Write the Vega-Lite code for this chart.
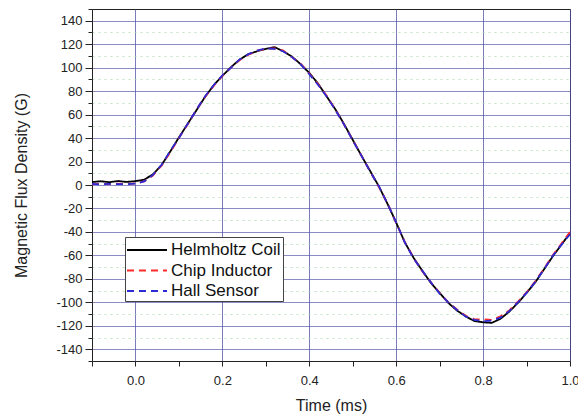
{
  "$schema": "https://vega.github.io/schema/vega-lite/v6.json",
  "width": 478,
  "height": 352,
  "autosize": {"type": "none"},
  "padding": {"left": 92, "top": 9, "right": 8, "bottom": 57},
  "background": "white",
  "config": {
    "view": {"stroke": "#222", "strokeWidth": 1},
    "font": "Liberation Sans",
    "axis": {"labelFont": "Liberation Sans", "titleFont": "Liberation Sans", "labelColor": "#222", "titleColor": "#222", "tickColor": "#222", "domain": false}
  },
  "data": {
    "values": [
      {"t": -0.10, "Helmholtz Coil": 2.5, "Chip Inductor": 0.5, "Hall Sensor": 1},
      {"t": -0.08, "Helmholtz Coil": 3.2, "Chip Inductor": 1, "Hall Sensor": 0.5},
      {"t": -0.06, "Helmholtz Coil": 2.4, "Chip Inductor": 0.8, "Hall Sensor": 1},
      {"t": -0.04, "Helmholtz Coil": 3.4, "Chip Inductor": 1.2, "Hall Sensor": 0.8},
      {"t": -0.02, "Helmholtz Coil": 2.6, "Chip Inductor": 0.7, "Hall Sensor": 0.6},
      {"t": 0.00, "Helmholtz Coil": 3.3, "Chip Inductor": 1.5, "Hall Sensor": 1.2},
      {"t": 0.02, "Helmholtz Coil": 4.5, "Chip Inductor": 3, "Hall Sensor": 3},
      {"t": 0.04, "Helmholtz Coil": 9, "Chip Inductor": 8, "Hall Sensor": 8.5},
      {"t": 0.06, "Helmholtz Coil": 17, "Chip Inductor": 16.5, "Hall Sensor": 17},
      {"t": 0.08, "Helmholtz Coil": 28.5, "Chip Inductor": 28, "Hall Sensor": 29},
      {"t": 0.10, "Helmholtz Coil": 40.5, "Chip Inductor": 40, "Hall Sensor": 40},
      {"t": 0.12, "Helmholtz Coil": 52, "Chip Inductor": 51.5, "Hall Sensor": 52},
      {"t": 0.14, "Helmholtz Coil": 63.5, "Chip Inductor": 64, "Hall Sensor": 64},
      {"t": 0.16, "Helmholtz Coil": 75, "Chip Inductor": 75, "Hall Sensor": 75.5},
      {"t": 0.18, "Helmholtz Coil": 85, "Chip Inductor": 84.5, "Hall Sensor": 85},
      {"t": 0.20, "Helmholtz Coil": 93, "Chip Inductor": 93, "Hall Sensor": 93.5},
      {"t": 0.22, "Helmholtz Coil": 100.5, "Chip Inductor": 100, "Hall Sensor": 100},
      {"t": 0.24, "Helmholtz Coil": 107, "Chip Inductor": 106.5, "Hall Sensor": 107},
      {"t": 0.26, "Helmholtz Coil": 111.5, "Chip Inductor": 111, "Hall Sensor": 111.5},
      {"t": 0.28, "Helmholtz Coil": 114, "Chip Inductor": 114.5, "Hall Sensor": 114.5},
      {"t": 0.30, "Helmholtz Coil": 116, "Chip Inductor": 116, "Hall Sensor": 116.5},
      {"t": 0.32, "Helmholtz Coil": 117.5, "Chip Inductor": 116.5, "Hall Sensor": 116},
      {"t": 0.34, "Helmholtz Coil": 114, "Chip Inductor": 114.5, "Hall Sensor": 114},
      {"t": 0.36, "Helmholtz Coil": 109.5, "Chip Inductor": 109, "Hall Sensor": 109},
      {"t": 0.38, "Helmholtz Coil": 103, "Chip Inductor": 103.5, "Hall Sensor": 103},
      {"t": 0.40, "Helmholtz Coil": 95.5, "Chip Inductor": 95, "Hall Sensor": 94.5},
      {"t": 0.42, "Helmholtz Coil": 86.5, "Chip Inductor": 86, "Hall Sensor": 85.5},
      {"t": 0.44, "Helmholtz Coil": 75.5, "Chip Inductor": 76, "Hall Sensor": 75.5},
      {"t": 0.46, "Helmholtz Coil": 64.5, "Chip Inductor": 64.5, "Hall Sensor": 64},
      {"t": 0.48, "Helmholtz Coil": 52, "Chip Inductor": 51.5, "Hall Sensor": 51.5},
      {"t": 0.50, "Helmholtz Coil": 38.5, "Chip Inductor": 38.5, "Hall Sensor": 38},
      {"t": 0.52, "Helmholtz Coil": 25, "Chip Inductor": 25, "Hall Sensor": 25},
      {"t": 0.54, "Helmholtz Coil": 12, "Chip Inductor": 11.5, "Hall Sensor": 11.5},
      {"t": 0.56, "Helmholtz Coil": -1, "Chip Inductor": -1.5, "Hall Sensor": -1},
      {"t": 0.58, "Helmholtz Coil": -16, "Chip Inductor": -15.5, "Hall Sensor": -16},
      {"t": 0.60, "Helmholtz Coil": -32, "Chip Inductor": -32.5, "Hall Sensor": -32},
      {"t": 0.62, "Helmholtz Coil": -49, "Chip Inductor": -48.5, "Hall Sensor": -49},
      {"t": 0.64, "Helmholtz Coil": -62, "Chip Inductor": -62, "Hall Sensor": -62.5},
      {"t": 0.66, "Helmholtz Coil": -73, "Chip Inductor": -73.5, "Hall Sensor": -73},
      {"t": 0.68, "Helmholtz Coil": -83.5, "Chip Inductor": -83, "Hall Sensor": -83},
      {"t": 0.70, "Helmholtz Coil": -92, "Chip Inductor": -92, "Hall Sensor": -92.5},
      {"t": 0.72, "Helmholtz Coil": -100.5, "Chip Inductor": -100, "Hall Sensor": -100},
      {"t": 0.74, "Helmholtz Coil": -107, "Chip Inductor": -106, "Hall Sensor": -106.5},
      {"t": 0.76, "Helmholtz Coil": -112, "Chip Inductor": -111.5, "Hall Sensor": -112},
      {"t": 0.78, "Helmholtz Coil": -116, "Chip Inductor": -114.5, "Hall Sensor": -115},
      {"t": 0.80, "Helmholtz Coil": -117, "Chip Inductor": -114.5, "Hall Sensor": -116},
      {"t": 0.82, "Helmholtz Coil": -117.5, "Chip Inductor": -115, "Hall Sensor": -115.5},
      {"t": 0.84, "Helmholtz Coil": -114, "Chip Inductor": -112, "Hall Sensor": -113},
      {"t": 0.86, "Helmholtz Coil": -108, "Chip Inductor": -107, "Hall Sensor": -107.5},
      {"t": 0.88, "Helmholtz Coil": -100.5, "Chip Inductor": -99.5, "Hall Sensor": -100},
      {"t": 0.90, "Helmholtz Coil": -92, "Chip Inductor": -91.5, "Hall Sensor": -92},
      {"t": 0.92, "Helmholtz Coil": -83, "Chip Inductor": -82, "Hall Sensor": -82.5},
      {"t": 0.94, "Helmholtz Coil": -72, "Chip Inductor": -71.5, "Hall Sensor": -72},
      {"t": 0.96, "Helmholtz Coil": -61, "Chip Inductor": -60, "Hall Sensor": -60.5},
      {"t": 0.98, "Helmholtz Coil": -51, "Chip Inductor": -50, "Hall Sensor": -51},
      {"t": 1.00, "Helmholtz Coil": -41, "Chip Inductor": -40, "Hall Sensor": -42}
    ]
  },
  "transform": [
    {"fold": ["Helmholtz Coil", "Chip Inductor", "Hall Sensor"], "as": ["series", "value"]}
  ],
  "mark": {"type": "line", "strokeWidth": 1.8, "clip": true},
  "encoding": {
    "x": {
      "field": "t", "type": "quantitative",
      "scale": {"domain": [-0.1, 1.0], "nice": false, "zero": false},
      "axis": {
        "title": "Time (ms)",
        "titleFontSize": 16, "titleFontWeight": "normal", "titlePadding": 10,
        "values": [-0.1, 0, 0.1, 0.2, 0.3, 0.4, 0.5, 0.6, 0.7, 0.8, 0.9, 1.0],
        "labelExpr": "abs(round(datum.value*10)) % 2 == 0 ? format(datum.value, '.1f') : ''",
        "labelFontSize": 13, "labelPadding": 8, "tickSize": 5,
        "labelFlush": false,
        "grid": true,
        "gridColor": "#4f4fa6",
        "gridOpacity": {"condition": {"test": "abs(round(datum.value*10)) % 2 == 0", "value": 0.75}, "value": 0}
      }
    },
    "y": {
      "field": "value", "type": "quantitative",
      "scale": {"domain": [-150, 150], "nice": false, "zero": false},
      "axis": {
        "title": "Magnetic Flux Density (G)",
        "titleFontSize": 16, "titleFontWeight": "normal", "titlePadding": 26,
        "values": [-150, -140, -130, -120, -110, -100, -90, -80, -70, -60, -50, -40, -30, -20, -10, 0, 10, 20, 30, 40, 50, 60, 70, 80, 90, 100, 110, 120, 130, 140, 150],
        "labelExpr": "abs(datum.value) % 20 == 0 ? datum.value : ''",
        "labelFontSize": 13, "labelPadding": 3,
        "tickSize": {"condition": {"test": "abs(datum.value) % 20 == 0", "value": 7}, "value": 4},
        "grid": true,
        "gridColor": {"condition": {"test": "abs(datum.value) % 20 == 0", "value": "#4f4fa6"}, "value": "#9fd49f"},
        "gridDash": {"condition": {"test": "abs(datum.value) % 20 == 0", "value": []}, "value": [2, 4]},
        "gridOpacity": {"condition": {"test": "abs(datum.value) == 150", "value": 0}, "value": 0.65}
      }
    },
    "color": {
      "field": "series", "type": "nominal",
      "scale": {"domain": ["Helmholtz Coil", "Chip Inductor", "Hall Sensor"], "range": ["#000000", "#ff2a2a", "#2b2bd6"]},
      "legend": {
        "title": null, "orient": "none", "legendX": 33, "legendY": 228,
        "symbolType": "M-2,0H2", "symbolSize": 400, "symbolStrokeWidth": 2,
        "symbolOffset": 9,
        "labelFontSize": 17, "labelFont": "Liberation Sans", "labelColor": "#111",
        "fillColor": "white", "strokeColor": "#444", "padding": 2,
        "rowPadding": 1.5, "labelOffset": 13
      }
    },
    "strokeDash": {
      "field": "series", "type": "nominal",
      "scale": {"domain": ["Helmholtz Coil", "Chip Inductor", "Hall Sensor"], "range": [[1, 0], [7, 5], [7, 5]]},
      "legend": null
    },
    "order": {"field": "t", "type": "quantitative"}
  }
}
